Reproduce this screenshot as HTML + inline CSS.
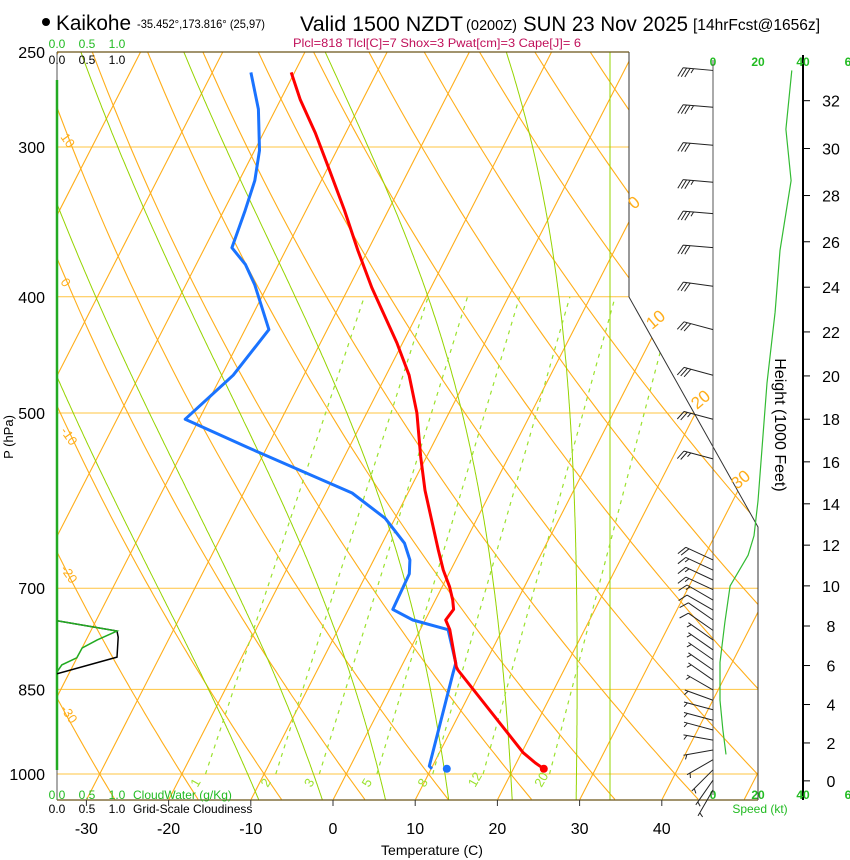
<!DOCTYPE html>
<html><head><meta charset="utf-8">
<style>
html,body{margin:0;padding:0;background:#fff;}
svg{display:block;font-family:"Liberation Sans",Arial,sans-serif;}
</style></head>
<body>
<svg id="chart" width="850" height="860" viewBox="0 0 850 860" xmlns="http://www.w3.org/2000/svg">
<defs>
<clipPath id="plotclip"><polygon points="57,52 629,52 629,297 758,527 758,800 57,800"/></clipPath>
</defs>
<g id="title">
<circle cx="46" cy="22" r="4" fill="#000"/>
<text x="56" y="30" font-size="21" textLength="75" lengthAdjust="spacingAndGlyphs">Kaikohe</text>
<text x="137" y="28" font-size="12" textLength="128" lengthAdjust="spacingAndGlyphs">-35.452°,173.816° (25,97)</text>
<text x="300" y="31" font-size="21" textLength="163" lengthAdjust="spacingAndGlyphs">Valid 1500 NZDT</text>
<text x="466" y="30" font-size="15" textLength="51" lengthAdjust="spacingAndGlyphs">(0200Z)</text>
<text x="523" y="31" font-size="21" textLength="165" lengthAdjust="spacingAndGlyphs">SUN 23 Nov 2025</text>
<text x="693" y="30" font-size="16" textLength="127" lengthAdjust="spacingAndGlyphs">[14hrFcst@1656z]</text>
</g>
<text x="293" y="47" font-size="12" fill="#c0105a" textLength="288" lengthAdjust="spacingAndGlyphs">Plcl=818 Tlcl[C]=7 Shox=3 Pwat[cm]=3 Cape[J]= 6</text>
<g id="bg" clip-path="url(#plotclip)"></g>
<g id="frame"></g>
<g id="profiles" clip-path="url(#plotclip)"></g>
<g id="labels"></g>
<g id="wind"></g>
</svg>
<script>
// ---- data ----
const tempP = [260,274,292,314,339,366,393,437,465,500,544,580,650,676,698,716,729,744,758,814,819,960,979,990];
const tempC = [-50.4,-47.6,-43.7,-39.6,-35.3,-31.2,-27.2,-20.7,-17.2,-13.9,-10.7,-8.1,-2.8,-0.9,0.9,2.1,2.8,2.5,3.6,6.7,7.1,20.2,22.3,23.7];
const dewP = [260,279,302,320,339,364,376,391,426,465,506,534,583,612,642,663,681,729,744,758,808,824,985,990];
const dewC = [-55.3,-52.1,-49.4,-48.1,-47.4,-46.7,-44.0,-41.6,-37.1,-38.6,-41.7,-32.4,-16.8,-11.2,-7.3,-5.6,-4.8,-4.6,-1.5,3.4,6.4,6.7,9.6,10.1];
const surfDew = [990, 11.9];
const surfTemp = [990, 23.7];
const barbP = [259,278,299,321,341,364,392,426,465,506,546,663,676,689,702,716,730,744,759,773,788,803,819,835,851,868,884,902,919,937,955,973,992,1012,1031];
const barbDir = [275,275,275,275,275,275,278,285,285,285,285,295,295,295,295,300,300,305,305,305,305,305,305,305,300,290,285,285,285,280,260,240,225,215,210];
const barbKt = [35,33,32,33,34,31,30,30,28,25,23,18,17,16,15,14,12,10,8,7,6,5,5,4,4,3,3,3,4,4,4,5,5,6,6];
const speedP = [259,290,320,366,412,472,592,633,657,697,747,807,868,919,963];
const speedKt = [35,32.4,34.7,29.8,27.6,24,20,18.2,15.6,7.6,5.3,3.1,3.1,4.4,5.8];
const cloudP = [745,760,773,785,800,811,822];
const cloudWater = [0,1.0,0.67,0.42,0.33,0.08,0];
const cloudinessP = [745,760,769,799,825];
const cloudiness = [0,1.0,1.02,1.0,0];
const pressTicks = [250,300,400,500,700,850,1000];
const tempTicks = [-30,-20,-10,0,10,20,30,40];
const heightTicks = [0,2,4,6,8,10,12,14,16,18,20,22,24,26,28,30,32];
const mixRatios = [1,2,3,5,8,12,20];
const moistStarts = [-12,-4,4,12,20,28];
const dryThetas = [-40,-30,-20,-10,0,10,20,30,40,50,60,70,80,90,100,110,120,130];
const isoTemps = [-110,-100,-90,-80,-70,-60,-50,-40,-30,-20,-10,0,10,20,30,40,50];

// ---- axes ----
const yP = p => 774 - 520.8*Math.log(1000/p);
const xT = (T,p) => 333 + 8.22*T + 0.512*(800 - yP(p));
const xBottom = T => 333 + 8.22*T;
const xCloud = v => 57 + 60*v;
const xSpeed = s => 713 + 2.25*s;
const hToP = kft => 1013.25*Math.pow(1 - 2.25577e-5*kft*304.8, 5.2559);
const NS = "http://www.w3.org/2000/svg";
function mk(tag, attrs, parent){
  const e = document.createElementNS(NS, tag);
  for (const k in attrs) e.setAttribute(k, attrs[k]);
  parent.appendChild(e); return e;
}
const bg = document.getElementById('bg');
const frame = document.getElementById('frame');
const prof = document.getElementById('profiles');
const lab = document.getElementById('labels');
const wind = document.getElementById('wind');
const ORANGE = "#ffae1a", GREEN = "#95d400";

pressTicks.forEach(p => {
  if (p === 250) return;
  const l = mk('line', {x1:57,x2:758,y1:yP(p),y2:yP(p),stroke:"#ffc440","stroke-width":1}, bg);
  
  
});
isoTemps.forEach(T => {
  const l = mk('line', {x1:xT(T,1050),y1:yP(1050),x2:xT(T,250),y2:yP(250),stroke:ORANGE,"stroke-width":1.1}, bg);
  
  
});
dryThetas.forEach(th => {
  let pts = [];
  for (let p = 1050; p >= 250; p -= 10) {
    const T = (th+273.15)*Math.pow(p/1000, 0.2857) - 273.15;
    pts.push(xT(T,p).toFixed(1)+","+yP(p).toFixed(1));
  }
  const l = mk('polyline', {points:pts.join(" "),fill:"none",stroke:ORANGE,"stroke-width":1.1}, bg);
  
  
});
function es(T){ return 6.112*Math.exp(17.67*T/(T+243.5)); }
function dTdp(T,p){
  const Tk = T+273.15, e = es(T), rs = 0.622*e/(p-e);
  const Rd=287.04, Lv=2.5e6, cp=1005.7;
  return (Rd*Tk + Lv*rs)/(cp + Lv*Lv*rs*0.622/(Rd*Tk*Tk))/p;
}
moistStarts.forEach(T0 => {
  let up = [], T = T0;
  for (let p = 1000; p >= 250; p -= 2) { up.push([T,p]); T -= dTdp(T,p)*2; }
  let dn = []; T = T0;
  for (let p = 1000; p <= 1052; p += 2) { dn.push([T,p]); T += dTdp(T,p)*2; }
  const all = dn.reverse().concat(up);
  const pts = all.map(a => xT(a[0],a[1]).toFixed(1)+","+yP(a[1]).toFixed(1)).join(" ");
  const l = mk('polyline', {points:pts,fill:"none",stroke:GREEN,"stroke-width":1}, bg);
  
  
});
const vline = mk('line', {x1:610,x2:610,y1:52,y2:800,stroke:GREEN,"stroke-width":1}, bg);


function tw(w,p){ const e = (w/1000)*p/(0.622+w/1000); const L = Math.log(e/6.112); return 243.5*L/(17.67-L); }
mixRatios.forEach((w,i) => {
  const l = mk('line', {x1:xT(tw(w,1000),1000),y1:yP(1000),x2:xT(tw(w,400),400),y2:yP(400),stroke:"#9be22e","stroke-width":1.2,"stroke-dasharray":"4,5"}, bg);
  
  
  const t = mk('text', {x:0,y:0,"font-size":13,fill:"#9be22e",transform:`translate(${xT(tw(w,1000),1000)-8},${yP(1000)+14}) rotate(-60)`}, lab);
  t.textContent = w;
  
  
});
[[143,"10"],[288,"0"],[437,"-10"],[575,"-20"],[715,"-30"]].forEach(d => {
  const t = mk('text', {x:0,y:0,"font-size":13,fill:ORANGE,transform:`translate(60,${d[0]-6}) rotate(55)`}, lab);
  t.textContent = d[1];
  
  
});
[[634,210,"0"],[652,330,"10"],[697,410,"20"],[737,490,"30"]].forEach(d => {
  const t = mk('text', {x:0,y:0,"font-size":17,fill:ORANGE,transform:`translate(${d[0]},${d[1]}) rotate(-40)`}, lab);
  t.textContent = d[2];
  
  
});

const f1 = mk('polyline', {points:"629,52 629,297 758,527 758,800",fill:"none",stroke:"#333","stroke-width":1}, frame);


const f2 = mk('line', {x1:57,x2:629,y1:52,y2:52,stroke:"#6b5418","stroke-width":1.3}, frame);


const f3 = mk('line', {x1:57,x2:758,y1:800,y2:800,stroke:"#6b5418","stroke-width":1.3}, frame);


const f4 = mk('line', {x1:57,x2:57,y1:52,y2:800,stroke:"#555","stroke-width":1}, frame);


const f5 = mk('line', {x1:57,x2:57,y1:80,y2:770,stroke:"#22aa22","stroke-width":2.5}, frame);



pressTicks.forEach(p => {
  const t = mk('text', {x:45,y:yP(p)+6,"font-size":16,"text-anchor":"end",fill:"#000"}, lab);
  t.textContent = p;
  
  
});
const yt = mk('text', {x:0,y:0,"font-size":13,"text-anchor":"middle",transform:"translate(13,437) rotate(-90)"}, lab);
yt.textContent = "P (hPa)";


tempTicks.forEach(T => {
  const tk = mk('line', {x1:xBottom(T),x2:xBottom(T),y1:800,y2:806,stroke:"#333"}, frame);
  
  
  const t = mk('text', {x:xBottom(T),y:834,"font-size":16,"text-anchor":"middle"}, lab);
  t.textContent = T;
  
  
});
const xtt = mk('text', {x:432,y:855,"font-size":14,"text-anchor":"middle"}, lab);
xtt.textContent = "Temperature (C)";



[["0.0",0],["0.5",0.5],["1.0",1]].forEach(d => {
  const a = mk('text', {x:xCloud(d[1]),y:48,"font-size":12,"text-anchor":"middle",fill:"#22bb22"}, lab); a.textContent = d[0];
  
  
  const b = mk('text', {x:xCloud(d[1]),y:64,"font-size":12,"text-anchor":"middle"}, lab); b.textContent = d[0];
  
  
  const c = mk('text', {x:xCloud(d[1]),y:799,"font-size":12,"text-anchor":"middle",fill:"#22bb22"}, lab); c.textContent = d[0];
  
  
  const e = mk('text', {x:xCloud(d[1]),y:813,"font-size":12,"text-anchor":"middle"}, lab); e.textContent = d[0];
  
  
});
const cwl = mk('text', {x:133,y:799,"font-size":12,fill:"#22bb22"}, lab); cwl.textContent = "CloudWater (g/Kg)";


const cdl = mk('text', {x:133,y:813,"font-size":12}, lab); cdl.textContent = "Grid-Scale Cloudiness";


const cl1 = mk('polyline', {points:cloudinessP.map((p,i)=>xCloud(cloudiness[i])+","+yP(p)).join(" "),fill:"none",stroke:"#000","stroke-width":1.5}, prof);


const cl2 = mk('polyline', {points:cloudP.map((p,i)=>xCloud(cloudWater[i])+","+yP(p)).join(" "),fill:"none",stroke:"#22aa22","stroke-width":1.5}, prof);



const dl = mk('polyline', {points:dewP.map((p,i)=>xT(dewC[i],p).toFixed(1)+","+yP(p).toFixed(1)).join(" "),fill:"none",stroke:"#1a73ff","stroke-width":3,"stroke-linejoin":"round"}, prof);


const tl = mk('polyline', {points:tempP.map((p,i)=>xT(tempC[i],p).toFixed(1)+","+yP(p).toFixed(1)).join(" "),fill:"none",stroke:"#ff0000","stroke-width":3,"stroke-linejoin":"round"}, prof);


const dd = mk('circle', {cx:xT(surfDew[1],surfDew[0]),cy:yP(surfDew[0]),r:4,fill:"#1a73ff"}, prof);


const td = mk('circle', {cx:xT(surfTemp[1],surfTemp[0]),cy:yP(surfTemp[0]),r:4,fill:"#ff0000"}, prof);



const wl = mk('line', {x1:713,x2:713,y1:60,y2:795,stroke:"#555","stroke-width":1}, wind);


barbP.forEach((p,i) => {
  const g = mk('g', {}, wind);
  
  
  const th = barbDir[i]*Math.PI/180, L = 30;
  const ux = Math.sin(th), uy = -Math.cos(th);
  const x0 = 713, y0 = yP(p), x1 = x0+L*ux, y1 = y0+L*uy;
  let d = `M${x0},${y0}L${x1.toFixed(1)},${y1.toFixed(1)}`;
  const px = uy, py = -ux;
  let kt = Math.round(barbKt[i]/5)*5, pos = 0;
  while (kt >= 10) {
    const bx = x1 - pos*ux, by = y1 - pos*uy;
    d += `M${bx.toFixed(1)},${by.toFixed(1)}l${(10*(0.9*px+0.45*ux)).toFixed(1)},${(10*(0.9*py+0.45*uy)).toFixed(1)}`;
    kt -= 10; pos += 3.5;
  }
  if (kt >= 5) {
    if (pos === 0) pos = 3.5;
    const bx = x1 - pos*ux, by = y1 - pos*uy;
    d += `M${bx.toFixed(1)},${by.toFixed(1)}l${(5*(0.9*px+0.45*ux)).toFixed(1)},${(5*(0.9*py+0.45*uy)).toFixed(1)}`;
  }
  mk('path', {d:d,fill:"none",stroke:"#222","stroke-width":1}, g);
});
const sl = mk('polyline', {points:speedP.map((p,i)=>xSpeed(speedKt[i]).toFixed(1)+","+yP(p).toFixed(1)).join(" "),fill:"none",stroke:"#33bb33","stroke-width":1.2}, wind);


[["0",0],["20",20],["40",40],["6",60]].forEach(d => {
  const a = mk('text', {x:xSpeed(d[1]),y:66,"font-size":12,"text-anchor":"middle",fill:"#22bb22","font-weight":"bold"}, lab); a.textContent = d[0];
  
  
  const b = mk('text', {x:xSpeed(d[1]),y:799,"font-size":12,"text-anchor":"middle",fill:"#22bb22","font-weight":"bold"}, lab); b.textContent = d[0];
  
  
});
const spt = mk('text', {x:760,y:813,"font-size":12,"text-anchor":"middle",fill:"#22bb22"}, lab); spt.textContent = "Speed (kt)";


const ha = mk('line', {x1:803,x2:803,y1:55,y2:800,stroke:"#000","stroke-width":2}, frame);


heightTicks.forEach(h => {
  const y = yP(hToP(h));
  const tk = mk('line', {x1:803,x2:810,y1:y,y2:y,stroke:"#000"}, frame);
  
  
  const t = mk('text', {x:831,y:y+6,"font-size":16,"text-anchor":"middle"}, lab);
  t.textContent = h;
  
  
});
const ht = mk('text', {x:0,y:0,"font-size":16,"text-anchor":"middle",transform:"translate(775,425) rotate(90)"}, lab);
ht.textContent = "Height (1000 Feet)";


</script>
</body></html>
